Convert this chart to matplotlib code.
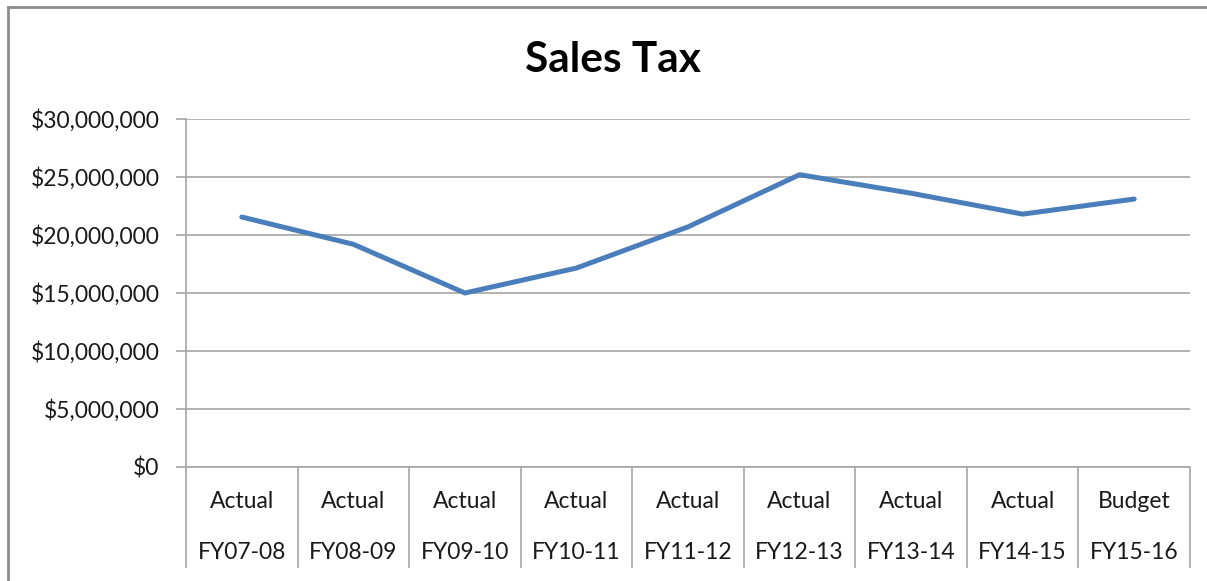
import matplotlib.pyplot as plt
from matplotlib.lines import Line2D
from matplotlib.ticker import FuncFormatter

# datos
status = ["Actual", "Actual", "Actual", "Actual", "Actual", "Actual", "Actual", "Actual", "Budget"]
years = ["FY07-08", "FY08-09", "FY09-10", "FY10-11", "FY11-12", "FY12-13", "FY13-14", "FY14-15", "FY15-16"]
sales_tax = [21550000, 19200000, 15000000, 17150000, 20700000, 25200000, 23600000, 21800000, 23100000]
yticks = [0, 5000000, 10000000, 15000000, 20000000, 25000000, 30000000]

W, H = 1207, 581
plt.rcParams['font.family'] = ['Lato', 'DejaVu Sans']
fig = plt.figure(figsize=(W / 100, H / 100), dpi=100)

# area del grafico en pixeles
left, right, top, bottom = 186, 1190, 119, 467
ax = fig.add_axes([left / W, 1 - bottom / H, (right - left) / W, (bottom - top) / H])

grid_col = "#A6A6A6"
txt_col = "#1a1a1a"
x = list(range(len(years)))
ax.plot(x, sales_tax, color="#4A7EBB", lw=3.6, solid_capstyle="round", zorder=3)

ax.set_xlim(-0.5, len(years) - 0.5)
ax.set_ylim(0, 30000000)
ax.set_yticks(yticks)
ax.yaxis.set_major_formatter(FuncFormatter(lambda v, p: "${:,.0f}".format(v)))
ax.grid(axis="y", color=grid_col, lw=1.2)
ax.set_axisbelow(True)

for s in ["top", "right"]:
    ax.spines[s].set_visible(False)
for s in ["left", "bottom"]:
    ax.spines[s].set_color(grid_col)
    ax.spines[s].set_linewidth(1.2)

ax.tick_params(axis="y", length=7, color=grid_col, width=1.2, labelsize=16.5, pad=12, labelcolor=txt_col)
# limites de categoria como ticks largos
ax.set_xticks([i - 0.5 for i in range(len(years) + 1)])
ax.set_xticklabels([])
ax.tick_params(axis="x", length=73, color=grid_col, width=1.2)

for i in x:
    ax.text(i, -0.10, status[i], transform=ax.get_xaxis_transform(), ha="center", va="center",
            fontsize=16.5, color=txt_col)
    ax.text(i, -0.245, years[i], transform=ax.get_xaxis_transform(), ha="center", va="center",
            fontsize=16.5, color=txt_col)

fig.text(613 / W, 1 - 60 / H, "Sales Tax", ha="center", va="center", fontsize=30.5, fontweight="bold")

# borde exterior
fig.add_artist(Line2D([8 / W, 8 / W], [0, 1 - 7 / H], transform=fig.transFigure, color="#8C8C8C", lw=2))
fig.add_artist(Line2D([8 / W, 1], [1 - 7 / H, 1 - 7 / H], transform=fig.transFigure, color="#8C8C8C", lw=2))

fig.savefig("out.png", dpi=100)
